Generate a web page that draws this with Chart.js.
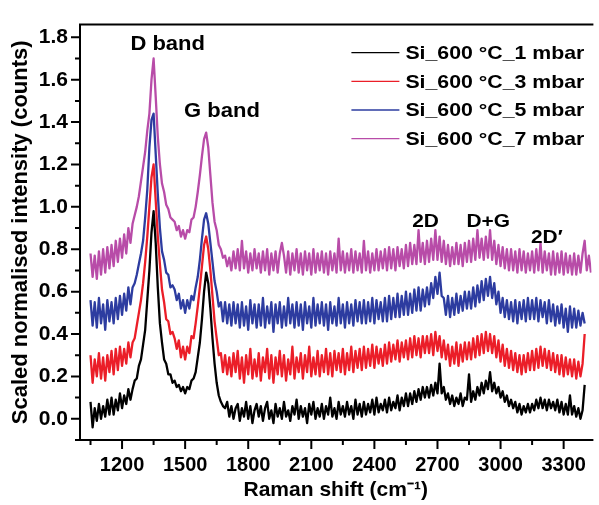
<!DOCTYPE html>
<html>
<head>
<meta charset="utf-8">
<title>Raman spectra</title>
<script src="https://cdn.jsdelivr.net/npm/chart.js@4.4.0/dist/chart.umd.min.js"></script>
<style>
  html, body { margin: 0; padding: 0; background: #ffffff; }
  #box { width: 599px; height: 505px; }
</style>
</head>
<body>
<div id="box"><canvas id="myChart" width="599" height="505"></canvas></div>
<script>
// Raman shift grid of the spectra (cm-1): first point and spacing
var shiftStart = 1050;
var shiftStep = 10;

var seriesNames = ['Si_600 °C_1 mbar', 'Si_600 °C_3 mbar', 'Si_600 °C_5 mbar', 'Si_600 °C_7 mbar'];
var seriesColors = ['#000000', '#eb1e28', '#2d3ca0', '#b84ca8'];

// scaled intensities, 1050 -> 3400 cm-1 (7 mbar runs on to 3430)
var int1mbar = [
  0.08, -0.04, 0.05, -0.01, 0.07, 0.00, 0.06, 0.01, 0.09, 0.02,
  0.10, 0.02, 0.09, 0.04, 0.12, 0.05, 0.11, 0.07, 0.14, 0.09,
  0.14, 0.18, 0.19, 0.25, 0.28, 0.35, 0.42, 0.56, 0.70, 0.88,
  0.98, 0.83, 0.62, 0.45, 0.36, 0.28, 0.26, 0.21, 0.21, 0.17,
  0.18, 0.15, 0.16, 0.13, 0.15, 0.12, 0.15, 0.14, 0.18, 0.19,
  0.22, 0.29, 0.36, 0.47, 0.60, 0.69, 0.64, 0.52, 0.38, 0.26,
  0.17, 0.11, 0.08, 0.06, 0.05, 0.08, 0.01, 0.06, 0.00, 0.05,
  0.07, -0.01, 0.05, 0.01, 0.08, 0.00, 0.06, -0.02, 0.04, 0.07,
  0.01, 0.06, -0.01, 0.05, 0.08, 0.00, 0.04, -0.02, 0.07, 0.01,
  0.05, 0.00, 0.08, 0.01, 0.04, -0.01, 0.06, 0.02, 0.09, 0.00,
  0.06, 0.01, 0.05, -0.02, 0.07, 0.02, 0.08, 0.00, 0.05, 0.01,
  0.07, 0.00, 0.06, 0.02, 0.10, 0.01, 0.05, 0.00, 0.08, 0.02,
  0.06, 0.01, 0.08, 0.02, 0.06, 0.00, 0.09, 0.02, 0.07, 0.01,
  0.08, 0.02, 0.07, 0.03, 0.09, 0.02, 0.10, 0.03, 0.07, 0.04,
  0.09, 0.03, 0.10, 0.04, 0.08, 0.05, 0.11, 0.04, 0.10, 0.06,
  0.12, 0.06, 0.12, 0.07, 0.13, 0.08, 0.14, 0.09, 0.15, 0.10,
  0.15, 0.10, 0.16, 0.11, 0.17, 0.12, 0.26, 0.12, 0.15, 0.09,
  0.12, 0.07, 0.11, 0.06, 0.10, 0.07, 0.12, 0.06, 0.10, 0.09,
  0.21, 0.08, 0.13, 0.09, 0.15, 0.11, 0.17, 0.12, 0.18, 0.14,
  0.22, 0.13, 0.17, 0.12, 0.15, 0.10, 0.13, 0.08, 0.11, 0.06,
  0.09, 0.05, 0.08, 0.03, 0.07, 0.02, 0.06, 0.03, 0.07, 0.03,
  0.07, 0.04, 0.09, 0.05, 0.10, 0.05, 0.09, 0.04, 0.09, 0.05,
  0.08, 0.04, 0.09, 0.03, 0.08, 0.02, 0.07, 0.02, 0.11, 0.02,
  0.06, 0.01, 0.05, 0.00, 0.04, 0.16
];

var int3mbar = [
  0.30, 0.17, 0.28, 0.20, 0.31, 0.19, 0.29, 0.18, 0.30, 0.22,
  0.32, 0.21, 0.33, 0.23, 0.34, 0.25, 0.33, 0.26, 0.36, 0.29,
  0.36, 0.38, 0.44, 0.50, 0.56, 0.64, 0.74, 0.86, 1.00, 1.14,
  1.20, 1.03, 0.86, 0.73, 0.61, 0.55, 0.47, 0.46, 0.40, 0.41,
  0.38, 0.33, 0.37, 0.29, 0.34, 0.28, 0.34, 0.31, 0.39, 0.38,
  0.45, 0.53, 0.62, 0.72, 0.82, 0.86, 0.80, 0.70, 0.58, 0.46,
  0.38, 0.30, 0.31, 0.22, 0.30, 0.21, 0.29, 0.20, 0.31, 0.22,
  0.32, 0.19, 0.29, 0.17, 0.30, 0.21, 0.33, 0.19, 0.28, 0.20,
  0.31, 0.18, 0.29, 0.22, 0.33, 0.19, 0.30, 0.17, 0.29, 0.21,
  0.32, 0.20, 0.30, 0.18, 0.28, 0.21, 0.34, 0.19, 0.29, 0.22,
  0.31, 0.19, 0.30, 0.22, 0.34, 0.20, 0.29, 0.21, 0.32, 0.20,
  0.30, 0.22, 0.33, 0.21, 0.31, 0.20, 0.32, 0.23, 0.31, 0.22,
  0.33, 0.21, 0.31, 0.23, 0.34, 0.22, 0.32, 0.24, 0.33, 0.23,
  0.34, 0.24, 0.33, 0.25, 0.35, 0.24, 0.34, 0.26, 0.33, 0.25,
  0.35, 0.26, 0.36, 0.27, 0.35, 0.28, 0.37, 0.27, 0.36, 0.29,
  0.37, 0.28, 0.38, 0.29, 0.39, 0.30, 0.38, 0.29, 0.39, 0.31,
  0.39, 0.31, 0.40, 0.30, 0.41, 0.32, 0.39, 0.29, 0.37, 0.28,
  0.35, 0.25, 0.34, 0.26, 0.36, 0.25, 0.35, 0.27, 0.36, 0.28,
  0.36, 0.28, 0.38, 0.29, 0.39, 0.30, 0.40, 0.31, 0.41, 0.32,
  0.40, 0.31, 0.39, 0.29, 0.37, 0.27, 0.35, 0.25, 0.33, 0.24,
  0.32, 0.23, 0.31, 0.22, 0.30, 0.21, 0.30, 0.22, 0.31, 0.23,
  0.32, 0.23, 0.33, 0.24, 0.34, 0.25, 0.33, 0.24, 0.32, 0.23,
  0.31, 0.22, 0.30, 0.21, 0.30, 0.20, 0.29, 0.21, 0.28, 0.20,
  0.28, 0.19, 0.27, 0.20, 0.26, 0.40
];

var int5mbar = [
  0.56, 0.44, 0.55, 0.43, 0.57, 0.45, 0.54, 0.42, 0.56, 0.46,
  0.55, 0.45, 0.57, 0.47, 0.58, 0.49, 0.59, 0.51, 0.62, 0.54,
  0.62, 0.64, 0.68, 0.73, 0.78, 0.84, 0.95, 1.08, 1.28, 1.41,
  1.44, 1.25, 1.06, 0.90, 0.79, 0.75, 0.69, 0.68, 0.62, 0.63,
  0.61, 0.56, 0.59, 0.52, 0.56, 0.50, 0.56, 0.52, 0.58, 0.56,
  0.62, 0.67, 0.75, 0.85, 0.94, 0.97, 0.92, 0.83, 0.74, 0.65,
  0.60, 0.53, 0.55, 0.46, 0.55, 0.45, 0.54, 0.44, 0.55, 0.45,
  0.54, 0.43, 0.55, 0.44, 0.53, 0.42, 0.56, 0.45, 0.54, 0.43,
  0.54, 0.44, 0.57, 0.43, 0.53, 0.45, 0.55, 0.41, 0.54, 0.45,
  0.55, 0.43, 0.53, 0.44, 0.57, 0.45, 0.54, 0.43, 0.55, 0.44,
  0.54, 0.42, 0.55, 0.45, 0.53, 0.43, 0.57, 0.44, 0.54, 0.45,
  0.55, 0.44, 0.54, 0.42, 0.55, 0.45, 0.53, 0.44, 0.57, 0.45,
  0.54, 0.43, 0.55, 0.45, 0.54, 0.44, 0.56, 0.46, 0.55, 0.45,
  0.56, 0.45, 0.55, 0.46, 0.57, 0.45, 0.56, 0.47, 0.55, 0.46,
  0.57, 0.46, 0.58, 0.47, 0.57, 0.48, 0.59, 0.48, 0.58, 0.49,
  0.60, 0.49, 0.59, 0.50, 0.61, 0.51, 0.62, 0.51, 0.61, 0.53,
  0.62, 0.54, 0.64, 0.57, 0.67, 0.59, 0.69, 0.58, 0.57, 0.49,
  0.58, 0.48, 0.57, 0.49, 0.59, 0.50, 0.58, 0.51, 0.60, 0.52,
  0.60, 0.52, 0.62, 0.53, 0.63, 0.55, 0.65, 0.56, 0.66, 0.58,
  0.67, 0.57, 0.64, 0.54, 0.60, 0.50, 0.57, 0.48, 0.56, 0.47,
  0.55, 0.46, 0.56, 0.45, 0.55, 0.47, 0.56, 0.46, 0.57, 0.47,
  0.56, 0.47, 0.57, 0.46, 0.56, 0.48, 0.55, 0.45, 0.56, 0.46,
  0.54, 0.44, 0.53, 0.45, 0.54, 0.43, 0.52, 0.41, 0.53, 0.43,
  0.52, 0.43, 0.51, 0.44, 0.50, 0.45
];

var int7mbar = [
  0.78, 0.67, 0.77, 0.66, 0.79, 0.68, 0.80, 0.69, 0.81, 0.71,
  0.82, 0.72, 0.84, 0.74, 0.85, 0.76, 0.87, 0.78, 0.90, 0.83,
  0.92, 0.96, 1.00, 1.05, 1.12, 1.19, 1.26, 1.36, 1.44, 1.60,
  1.70, 1.52, 1.33, 1.20, 1.11, 1.07, 1.01, 0.99, 0.95, 0.94,
  0.93, 0.89, 0.91, 0.86, 0.89, 0.85, 0.89, 0.88, 0.94, 0.95,
  1.00, 1.07, 1.15, 1.24, 1.32, 1.35, 1.28, 1.15, 1.02, 0.93,
  0.89, 0.82, 0.80, 0.76, 0.77, 0.72, 0.76, 0.70, 0.79, 0.71,
  0.80, 0.70, 0.84, 0.71, 0.79, 0.69, 0.78, 0.70, 0.80, 0.71,
  0.78, 0.69, 0.79, 0.70, 0.80, 0.68, 0.78, 0.70, 0.79, 0.69,
  0.78, 0.83, 0.77, 0.69, 0.79, 0.68, 0.78, 0.70, 0.80, 0.69,
  0.78, 0.68, 0.79, 0.70, 0.78, 0.68, 0.80, 0.69, 0.78, 0.70,
  0.79, 0.69, 0.78, 0.68, 0.79, 0.70, 0.78, 0.69, 0.85, 0.70,
  0.79, 0.69, 0.78, 0.70, 0.80, 0.69, 0.79, 0.70, 0.78, 0.69,
  0.84, 0.70, 0.79, 0.69, 0.78, 0.70, 0.80, 0.70, 0.79, 0.71,
  0.80, 0.70, 0.81, 0.71, 0.80, 0.70, 0.81, 0.72, 0.80, 0.71,
  0.82, 0.72, 0.83, 0.73, 0.82, 0.73, 0.89, 0.74, 0.83, 0.73,
  0.84, 0.74, 0.85, 0.75, 0.89, 0.75, 0.86, 0.74, 0.84, 0.73,
  0.82, 0.72, 0.81, 0.73, 0.83, 0.73, 0.82, 0.72, 0.83, 0.74,
  0.84, 0.74, 0.85, 0.75, 0.89, 0.76, 0.85, 0.75, 0.86, 0.76,
  0.89, 0.75, 0.84, 0.73, 0.82, 0.72, 0.81, 0.71, 0.80, 0.70,
  0.80, 0.70, 0.79, 0.69, 0.80, 0.70, 0.79, 0.69, 0.78, 0.70,
  0.79, 0.69, 0.80, 0.70, 0.83, 0.69, 0.79, 0.70, 0.78, 0.68,
  0.79, 0.68, 0.78, 0.69, 0.79, 0.68, 0.78, 0.69, 0.77, 0.68,
  0.78, 0.68, 0.77, 0.69, 0.78, 0.84, 0.70, 0.77, 0.69
];

var xTickLabels = ['1200', '1500', '1800', '2100', '2400', '2700', '3000', '3300'];
var yTickLabels = ['0.0', '0.2', '0.4', '0.6', '0.8', '1.0', '1.2', '1.4', '1.6', '1.8'];
var bandLabels = ['D band', 'G band', '2D', 'D+G', '2D\u2032'];

var FONT = '"Liberation Sans", Arial, Helvetica, sans-serif';

document.addEventListener("DOMContentLoaded", function () {
  renderSpectra();
});

function toPoints(values) {
  return values.map(function (v, i) {
    return { x: shiftStart + i * shiftStep, y: v };
  });
}

// bold text drawn a little wider than the stock face
function wideText(ctx, text, x, y, stretch) {
  ctx.save();
  ctx.translate(x, y);
  ctx.scale(stretch, 1);
  ctx.fillText(text, 0, 0);
  ctx.restore();
}

// frame, tick marks, legend and band names are drawn on top of the spectra
var decorPlugin = {
  id: 'decor',
  afterDraw: function (chart, args, opts) {
    var ctx = chart.ctx;
    var area = chart.chartArea;
    var xs = chart.scales.x;
    var ys = chart.scales.y;
    ctx.save();

    ctx.strokeStyle = '#000';
    ctx.lineWidth = 2;
    ctx.beginPath();
    ctx.moveTo(area.right + 2, area.top);
    ctx.lineTo(area.left, area.top);
    ctx.lineTo(area.left, area.bottom);
    ctx.lineTo(area.right + 2, area.bottom);
    ctx.stroke();

    ctx.beginPath();
    xs.ticks.forEach(function (t) {
      var px = xs.getPixelForValue(t.value);
      ctx.moveTo(px, area.bottom);
      ctx.lineTo(px, area.bottom + (t.label ? 9 : 5));
    });
    ys.ticks.forEach(function (t) {
      var py = ys.getPixelForValue(t.value);
      ctx.moveTo(area.left, py);
      ctx.lineTo(area.left - (t.label ? 9 : 5), py);
    });
    ctx.stroke();

    // legend in the upper right corner
    ctx.font = 'bold 19px ' + FONT;
    ctx.textAlign = 'left';
    ctx.textBaseline = 'middle';
    chart.data.datasets.forEach(function (ds, i) {
      var y = area.top + 28 + i * 28.7;
      ctx.strokeStyle = ds.borderColor;
      ctx.lineWidth = 1.3;
      ctx.beginPath();
      ctx.moveTo(area.right - 240, y);
      ctx.lineTo(area.right - 192, y);
      ctx.stroke();
      ctx.fillStyle = '#000';
      wideText(ctx, ds.label, area.right - 186, y + 1, 1.12);
    });

    // band names
    ctx.textAlign = 'center';
    opts.notes.forEach(function (n, i) {
      ctx.font = 'bold ' + n.size + 'px ' + FONT;
      wideText(ctx, bandLabels[i], xs.getPixelForValue(n.x), ys.getPixelForValue(n.y), 1.1);
    });
    ctx.restore();
  }
};

function renderSpectra() {
  var series = [int1mbar, int3mbar, int5mbar, int7mbar];
  var datasets = series.map(function (values, i) {
    return {
      label: seriesNames[i],
      data: toPoints(values),
      borderColor: seriesColors[i],
      borderWidth: 2.3,
      borderJoinStyle: 'round',
      pointRadius: 0,
      tension: 0,
      fill: false
    };
  });

  var ctx = document.getElementById('myChart').getContext('2d');
  var myChart = new Chart(ctx, {
    type: 'line',
    data: { datasets: datasets },
    plugins: [decorPlugin],
    options: {
      responsive: false,
      animation: false,
      devicePixelRatio: 1,
      layout: { padding: { top: 15, right: 2, left: 0, bottom: 0 } },
      plugins: {
        legend: { display: false },
        tooltip: { enabled: false },
        decor: {
          notes: [
            { x: 1417, y: 1.767, size: 20 },
            { x: 1675, y: 1.450, size: 20 },
            { x: 2643, y: 0.928, size: 19 },
            { x: 2941, y: 0.928, size: 19 },
            { x: 3220, y: 0.856, size: 19 }
          ]
        }
      },
      scales: {
        x: {
          type: 'linear',
          min: 1000,
          max: 3432,
          afterBuildTicks: function (scale) {
            var list = [];
            for (var v = 1050; v <= 3400; v += 150) list.push({ value: v });
            scale.ticks = list;
          },
          afterFit: function (scale) { scale.height = 65; },
          grid: { display: false, drawTicks: false },
          border: { display: false },
          ticks: {
            autoSkip: false,
            maxRotation: 0,
            padding: 13,
            color: '#000',
            font: { family: FONT, size: 20, weight: 'bold' },
            callback: function (value) {
              var s = String(value);
              return xTickLabels.indexOf(s) >= 0 ? s : '';
            }
          },
          title: {
            display: true,
            text: 'Raman shift (cm\u207B\u00B9)',
            color: '#000',
            padding: { top: 0, bottom: 2 },
            font: { family: FONT, size: 21, weight: 'bold' }
          }
        },
        y: {
          min: -0.1,
          max: 1.86,
          afterBuildTicks: function (scale) {
            var list = [];
            for (var k = -1; k <= 18; k++) list.push({ value: k / 10 });
            scale.ticks = list;
          },
          afterFit: function (scale) { scale.width = 80; },
          grid: { display: false, drawTicks: false },
          border: { display: false },
          ticks: {
            autoSkip: false,
            padding: 12,
            color: '#000',
            font: { family: FONT, size: 21, weight: 'bold' },
            callback: function (value) {
              var s = value.toFixed(1);
              return yTickLabels.indexOf(s) >= 0 ? s : '';
            }
          },
          title: {
            display: true,
            text: 'Scaled normalised intensity (counts)',
            color: '#000',
            padding: { top: 8, bottom: 0 },
            font: { family: FONT, size: 22, weight: 'bold' }
          }
        }
      }
    }
  });
}
</script>
</body>
</html>
